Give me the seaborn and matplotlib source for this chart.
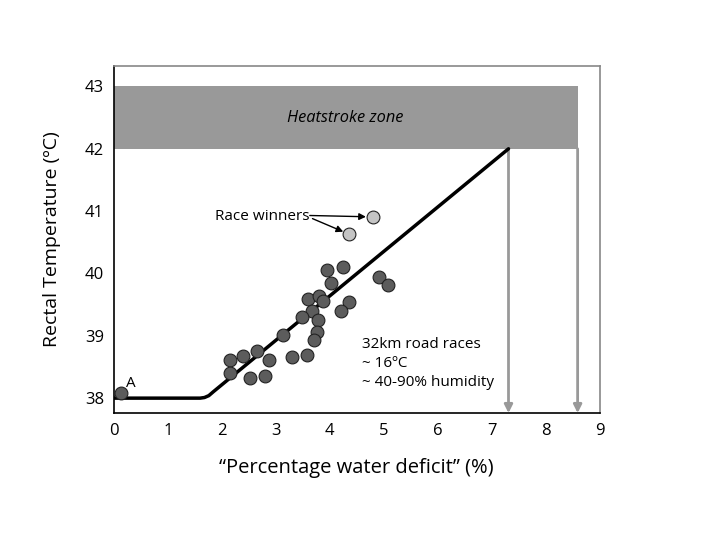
import matplotlib
matplotlib.use('Agg')
import matplotlib.pyplot as plt
import seaborn as sns
import pandas as pd

# runner data: water deficit (%) vs rectal temperature (C)
deficit = [3.94, 4.25, 4.91, 5.07, 4.02, 3.60, 3.80, 3.88, 4.35, 4.20,
           3.67, 3.49, 3.78, 3.77, 3.71, 3.14, 3.58, 3.30, 2.88, 2.65,
           2.40, 2.15, 2.15, 2.53, 2.80]
temp = [40.06, 40.10, 39.95, 39.81, 39.84, 39.59, 39.64, 39.56, 39.55, 39.40,
        39.40, 39.30, 39.25, 39.06, 38.93, 39.01, 38.70, 38.66, 38.61, 38.76,
        38.67, 38.61, 38.41, 38.33, 38.36]

# race winners
win_deficit = [4.80, 4.36]
win_temp = [40.91, 40.63]

# point A
a_deficit = [0.13]
a_temp = [38.09]

# fitted relation
line_x = [0, 1.6, 1.68, 1.76, 1.85, 7.31]
line_y = [38.0, 38.0, 38.01, 38.04, 38.107, 42.0]

# heatstroke limits
zone_low, zone_high = 42, 43
arrow_x = [7.31, 8.59]

xticks = list(range(10))
yticks = [38, 39, 40, 41, 42, 43]

sns.set_style('white')
plt.rcParams['font.family'] = ['Open Sans', 'DejaVu Sans']
plt.rcParams['text.color'] = 'black'
plt.rcParams['axes.labelcolor'] = 'black'
plt.rcParams['xtick.color'] = 'black'
plt.rcParams['ytick.color'] = 'black'

fig = plt.figure(figsize=(7.2, 5.4), dpi=100)
ax = fig.add_axes([0.158, 0.235, 0.675, 0.643])

ax.fill_between([0, arrow_x[1]], zone_low, zone_high, color='#999999', lw=0, zorder=1)
ax.text(4.28, 42.5, 'Heatstroke zone', style='italic', fontsize=11.8,
        ha='center', va='center')

for xa in arrow_x:
    ax.annotate('', xy=(xa, 37.76), xytext=(xa, zone_low),
                arrowprops=dict(arrowstyle='-|>', color='#999999', lw=2,
                                mutation_scale=12, shrinkA=0, shrinkB=0),
                zorder=2)

sns.lineplot(x=line_x, y=line_y, color='black', lw=2.5, sort=False,
             ax=ax, zorder=3)

pts = pd.DataFrame({'deficit': deficit, 'temp': temp})
sns.scatterplot(data=pts, x='deficit', y='temp', s=85, color='#5c5c5c',
                edgecolor='#222222', linewidth=0.8, ax=ax, zorder=4)
sns.scatterplot(x=a_deficit, y=a_temp, s=85, color='#5c5c5c',
                edgecolor='#222222', linewidth=0.8, ax=ax, zorder=4)
sns.scatterplot(x=win_deficit, y=win_temp, s=85, color='#c4c4c4',
                edgecolor='#222222', linewidth=0.8, ax=ax, zorder=4)

ax.text(0.22, 38.18, 'A', fontsize=11)
ax.text(1.88, 40.92, 'Race winners', fontsize=11, va='center')
ax.annotate('', xy=(win_deficit[0] - 0.13, win_temp[0]), xytext=(3.63, 40.93),
            arrowprops=dict(arrowstyle='-|>', color='black', lw=1, mutation_scale=10,
                            shrinkA=0, shrinkB=0))
ax.annotate('', xy=(win_deficit[1] - 0.11, win_temp[1] + 0.04), xytext=(3.68, 40.88),
            arrowprops=dict(arrowstyle='-|>', color='black', lw=1, mutation_scale=10,
                            shrinkA=0, shrinkB=0))
ax.text(4.6, 38.98, '32km road races\n~ 16ºC\n~ 40-90% humidity',
        fontsize=11, va='top', linespacing=1.35)

ax.set_xlim(0, 9)
ax.set_ylim(37.76, 43.33)
ax.set_xticks(xticks)
ax.set_yticks(yticks)
ax.tick_params(direction='in', length=4, width=1, labelsize=12, color='black', pad=7)
ax.set_xlabel('“Percentage water deficit” (%)', fontsize=14.5, labelpad=14)
ax.set_ylabel('Rectal Temperature (ºC)', fontsize=14, labelpad=17)

for side in ['left', 'bottom']:
    ax.spines[side].set_color('black')
    ax.spines[side].set_linewidth(1.2)
for side in ['top', 'right']:
    ax.spines[side].set_color('#888888')
    ax.spines[side].set_linewidth(1.2)

fig.savefig('out.png', dpi=100)
